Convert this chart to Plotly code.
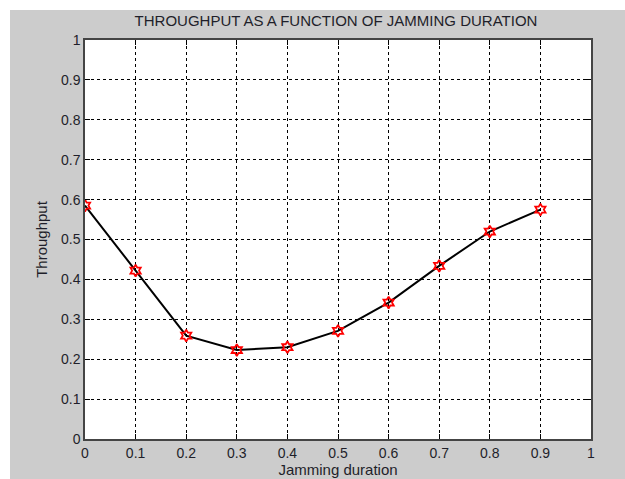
import plotly.graph_objects as go

jamming_duration = [0, 0.1, 0.2, 0.3, 0.4, 0.5, 0.6, 0.7, 0.8, 0.9]
throughput = [0.585, 0.422, 0.259, 0.223, 0.230, 0.271, 0.342, 0.434, 0.520, 0.575]
tick_vals = [0, 0.1, 0.2, 0.3, 0.4, 0.5, 0.6, 0.7, 0.8, 0.9, 1]
tick_text = ["0", "0.1", "0.2", "0.3", "0.4", "0.5", "0.6", "0.7", "0.8", "0.9", "1"]

# body margin is removed in the page so the figure fills the window
W, H = 625, 479
L, R, T, B = 85, 34, 40, 40
pw, ph = W - L - R, H - T - B

def px2paper_x(px):
    return (px - L) / pw

def px2paper_y(py):
    return 1 - (py - T) / ph

FAM = "Liberation Sans, Arial, sans-serif"
tick_font = dict(family=FAM, size=14, color="#1f1f2a")
label_font = dict(family=FAM, size=15, color="#1f1f2a")

fig = go.Figure()
fig.add_trace(go.Scatter(
    x=jamming_duration, y=throughput, mode="lines+markers",
    line=dict(color="black", width=2),
    marker=dict(symbol="hexagram-open", size=9, color="red", line=dict(width=1.8, color="red")),
    showlegend=False,
))

axis_common = dict(
    range=[0, 1], tickvals=tick_vals, ticktext=tick_text,
    showgrid=True, gridcolor="black", griddash="3px,3px", gridwidth=1,
    showline=True, linecolor="#444444", linewidth=1.5, mirror="ticks",
    ticks="inside", ticklen=5, tickcolor="black", zeroline=False,
    tickfont=tick_font, automargin=False,
)

fig.update_layout(
    width=W, height=H,
    margin=dict(l=L, r=R, t=T, b=B),
    paper_bgcolor="#cccccc", plot_bgcolor="white",
    title=dict(text="THROUGHPUT AS A FUNCTION OF JAMMING DURATION",
               x=px2paper_x(336), xref="paper", xanchor="center",
               y=1 - 21 / H, yanchor="middle",
               font=dict(family=FAM, size=15, color="#1f1f2a")),
    xaxis=dict(axis_common, title=dict(text="Jamming duration", font=label_font, standoff=0)),
    yaxis=dict(axis_common, title=dict(text="Throughput", font=label_font, standoff=10)),
    shapes=[
        dict(type="rect", xref="paper", yref="paper", layer="below",
             x0=px2paper_x(-5), x1=px2paper_x(W + 5), y0=px2paper_y(10), y1=px2paper_y(-5),
             fillcolor="white", line=dict(width=0)),
        dict(type="rect", xref="paper", yref="paper", layer="below",
             x0=px2paper_x(-5), x1=px2paper_x(10), y0=px2paper_y(H + 5), y1=px2paper_y(-5),
             fillcolor="white", line=dict(width=0)),
    ],
)

fig.write_html(
    "out.html",
    config={"displayModeBar": False},
    post_script="document.body.style.margin='0';document.body.style.overflow='hidden';",
)
